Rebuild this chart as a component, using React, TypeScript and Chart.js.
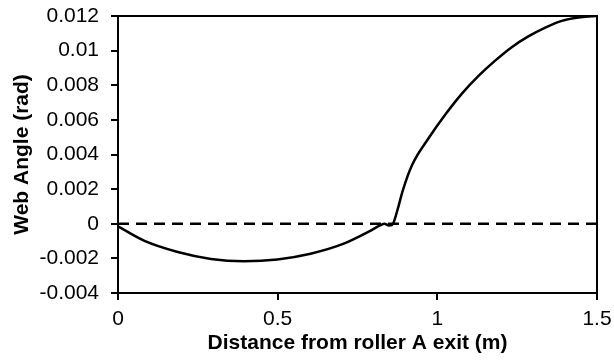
import React, { useEffect, useRef } from "react";
import { Chart, registerables } from "chart.js";

Chart.register(...registerables);

const distance = [0, 0.083, 0.187, 0.291, 0.395, 0.499, 0.603, 0.707, 0.79, 0.822, 0.835, 0.848, 0.858, 0.864, 0.869, 0.879, 0.892, 0.921, 0.973, 1.025, 1.077, 1.129, 1.181, 1.233, 1.285, 1.338, 1.39, 1.442, 1.483, 1.5];
const webAngle = [-0.00015, -0.00099, -0.00163, -0.00203, -0.00216, -0.00206, -0.00173, -0.00115, -0.00041, -0.00008, 0, -0.0001, -0.00008, 0.00012, 0.0004, 0.00105, 0.00193, 0.00339, 0.00495, 0.00631, 0.00752, 0.00854, 0.00942, 0.0102, 0.01082, 0.01133, 0.01172, 0.01191, 0.01198, 0.012];
const zeroLineX = [0, 1.5];
const zeroLineY = [0, 0];
const xTicks = [0, 0.5, 1, 1.5];
const yTicks = [-0.004, -0.002, 0, 0.002, 0.004, 0.006, 0.008, 0.01, 0.012];

const FONT = "'Liberation Sans', Arial, sans-serif";

const boxPlugin = {
  id: "box",
  afterDatasetsDraw(chart: any) {
    const { ctx, chartArea } = chart;
    ctx.save();
    ctx.strokeStyle = "#000";
    ctx.lineWidth = 2;
    ctx.strokeRect(chartArea.left, chartArea.top, chartArea.right - chartArea.left, chartArea.bottom - chartArea.top);
    ctx.restore();
  },
};

export default function App() {
  const ref = useRef<HTMLCanvasElement | null>(null);
  useEffect(() => {
    document.body.style.margin = "0";
    const chart = new Chart(ref.current as HTMLCanvasElement, {
      type: "line",
      data: {
        datasets: [
          {
            data: distance.map((x, i) => ({ x, y: webAngle[i] })),
            borderColor: "#000",
            borderWidth: 2.5,
            pointRadius: 0,
            cubicInterpolationMode: "monotone",
            fill: false,
          },
          {
            data: zeroLineX.map((x, i) => ({ x, y: zeroLineY[i] })),
            borderColor: "#000",
            borderWidth: 2.5,
            borderDash: [11, 7],
            pointRadius: 0,
            fill: false,
          },
        ],
      },
      options: {
        animation: false,
        responsive: false,
        layout: { padding: { left: 0, right: 17, top: 16, bottom: 0 } },
        plugins: { legend: { display: false }, tooltip: { enabled: false } },
        scales: {
          x: {
            type: "linear",
            min: 0,
            max: 1.5,
            afterBuildTicks: (s: any) => { s.ticks = xTicks.map((v) => ({ value: v })); },
            afterFit: (s: any) => { s.height = 67; s.paddingLeft = 0; s.paddingRight = 0; },
            ticks: {
              color: "#000",
              font: { family: FONT, size: 21 },
              padding: 7,
              maxRotation: 0,
              callback: (v: any) => String(v),
            },
            grid: { display: true, drawOnChartArea: false, drawTicks: true, tickLength: 7, color: "#000", lineWidth: 2 },
            border: { display: false },
            title: {
              display: true,
              text: "Distance from roller A exit (m)",
              color: "#000",
              font: { family: FONT, size: 21, weight: "bold" },
              padding: { top: 0, bottom: 4 },
            },
          },
          y: {
            type: "linear",
            min: -0.004,
            max: 0.012,
            afterBuildTicks: (s: any) => { s.ticks = yTicks.map((v) => ({ value: v })); },
            afterFit: (s: any) => { s.width = 118; s.paddingTop = 0; s.paddingBottom = 0; },
            ticks: {
              color: "#000",
              font: { family: FONT, size: 21 },
              padding: 12,
              callback: (v: any) => String(Number(Number(v).toFixed(3))),
            },
            grid: { display: true, drawOnChartArea: false, drawTicks: true, tickLength: 7, color: "#000", lineWidth: 2 },
            border: { display: false },
            title: {
              display: true,
              text: "Web Angle (rad)",
              color: "#000",
              font: { family: FONT, size: 21, weight: "bold" },
              padding: { top: 10, bottom: 0 },
            },
          },
        },
      },
      plugins: [boxPlugin],
    });
    return () => chart.destroy();
  }, []);
  return (
    <div style={{ width: 614, height: 360 }}>
      <canvas ref={ref} width={614} height={360} style={{ display: "block" }} />
    </div>
  );
}
